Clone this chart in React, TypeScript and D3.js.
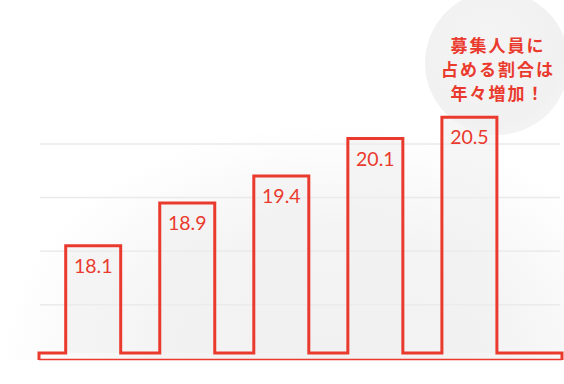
import React from "react";
import * as d3 from "d3";

const categories = ["1", "2", "3", "4", "5"];
const values = [18.1, 18.9, 19.4, 20.1, 20.5];
const labels = ["18.1", "18.9", "19.4", "20.1", "20.5"];
const gridValues = [17, 18, 19, 20];
const bubbleLines = ["募集人員に", "占める割合は", "年々増加！"];

const W = 564;
const H = 384;
const RED = "#ea3a2e";

export default function App() {
  const step = 94.05;
  const bw = 55;
  const xs = d3
    .scaleLinear()
    .domain([0, categories.length - 1])
    .range([65.7, 65.7 + step * (categories.length - 1)]);
  const bx = (i: number) => xs(i);

  const y = d3.scaleLinear().domain([16.1, 21]).range([353, 353 - 4.9 * 53.6]);
  const base = y(16.1);
  const left = 39;
  const right = 562;

  let d = `M${left},360 L${left},${base}`;
  values.forEach((v, i) => {
    const x0 = bx(i);
    const x1 = x0 + bw;
    d += ` L${x0},${base} L${x0},${y(v)} L${x1},${y(v)} L${x1},${base}`;
  });
  d += ` L${right},${base} L${right},360`;

  return (
    <svg
      width={W}
      height={H}
      style={{ position: "absolute", left: 0, top: 0, display: "block" }}
    >
      <defs>
        <radialGradient id="bg" cx="330" cy="360" r="330" gradientUnits="userSpaceOnUse"
          gradientTransform="translate(330 360) scale(1 0.72) translate(-330 -360)">
          <stop offset="0" stopColor="#f1f1f1" />
          <stop offset="0.55" stopColor="#f4f4f4" />
          <stop offset="1" stopColor="#ffffff" />
        </radialGradient>
        <radialGradient id="bub" cx="0.45" cy="0.4" r="0.6">
          <stop offset="0" stopColor="#f4f4f4" />
          <stop offset="0.85" stopColor="#f1f1f1" />
          <stop offset="1" stopColor="#f3f3f3" />
        </radialGradient>
        <clipPath id="clipTop">
          <rect x={0} y={0} width={W} height={360} />
        </clipPath>
      </defs>
      <rect x={0} y={0} width={W} height={H} fill="#ffffff" />
      <rect x={0} y={0} width={W} height={360} fill="url(#bg)" clipPath="url(#clipTop)" />
      <circle cx={497} cy={63} r={72} fill="url(#bub)" />
      {bubbleLines.map((t, i) => (
        <text
          key={i}
          x={497 + 1}
          y={52 + i * 24}
          textAnchor="middle"
          fontFamily="'Noto Sans CJK JP', sans-serif"
          fontWeight={700}
          fontSize={17}
          letterSpacing={2}
          fill={RED}
        >
          {t}
        </text>
      ))}
      {gridValues.map((g) => (
        <line key={g} x1={40} x2={560} y1={y(g)} y2={y(g)} stroke="#ececec" strokeWidth={1.5} />
      ))}
      {values.map((v, i) => (
        <rect key={i} x={bx(i)} y={y(v)} width={bw} height={base - y(v)} fill="#f0f0f0" fillOpacity={0.6} />
      ))}
      {gridValues.map((g) => (
        <line key={"g2" + g} x1={40} x2={560} y1={y(g)} y2={y(g)} stroke="#ebebeb" strokeWidth={1} opacity={0.6} />
      ))}
      <line x1={left} x2={right} y1={359.5} y2={359.5} stroke={RED} strokeWidth={1.5} />
      <path d={d} fill="none" stroke={RED} strokeWidth={3} strokeLinejoin="miter" />
      {values.map((v, i) => (
        <text
          key={i}
          x={bx(i) + bw / 2}
          y={y(v) + 27}
          textAnchor="middle"
          fontFamily="Lato, sans-serif"
          fontSize={19.5}
          fill={RED}
        >
          {labels[i]}
        </text>
      ))}
    </svg>
  );
}
